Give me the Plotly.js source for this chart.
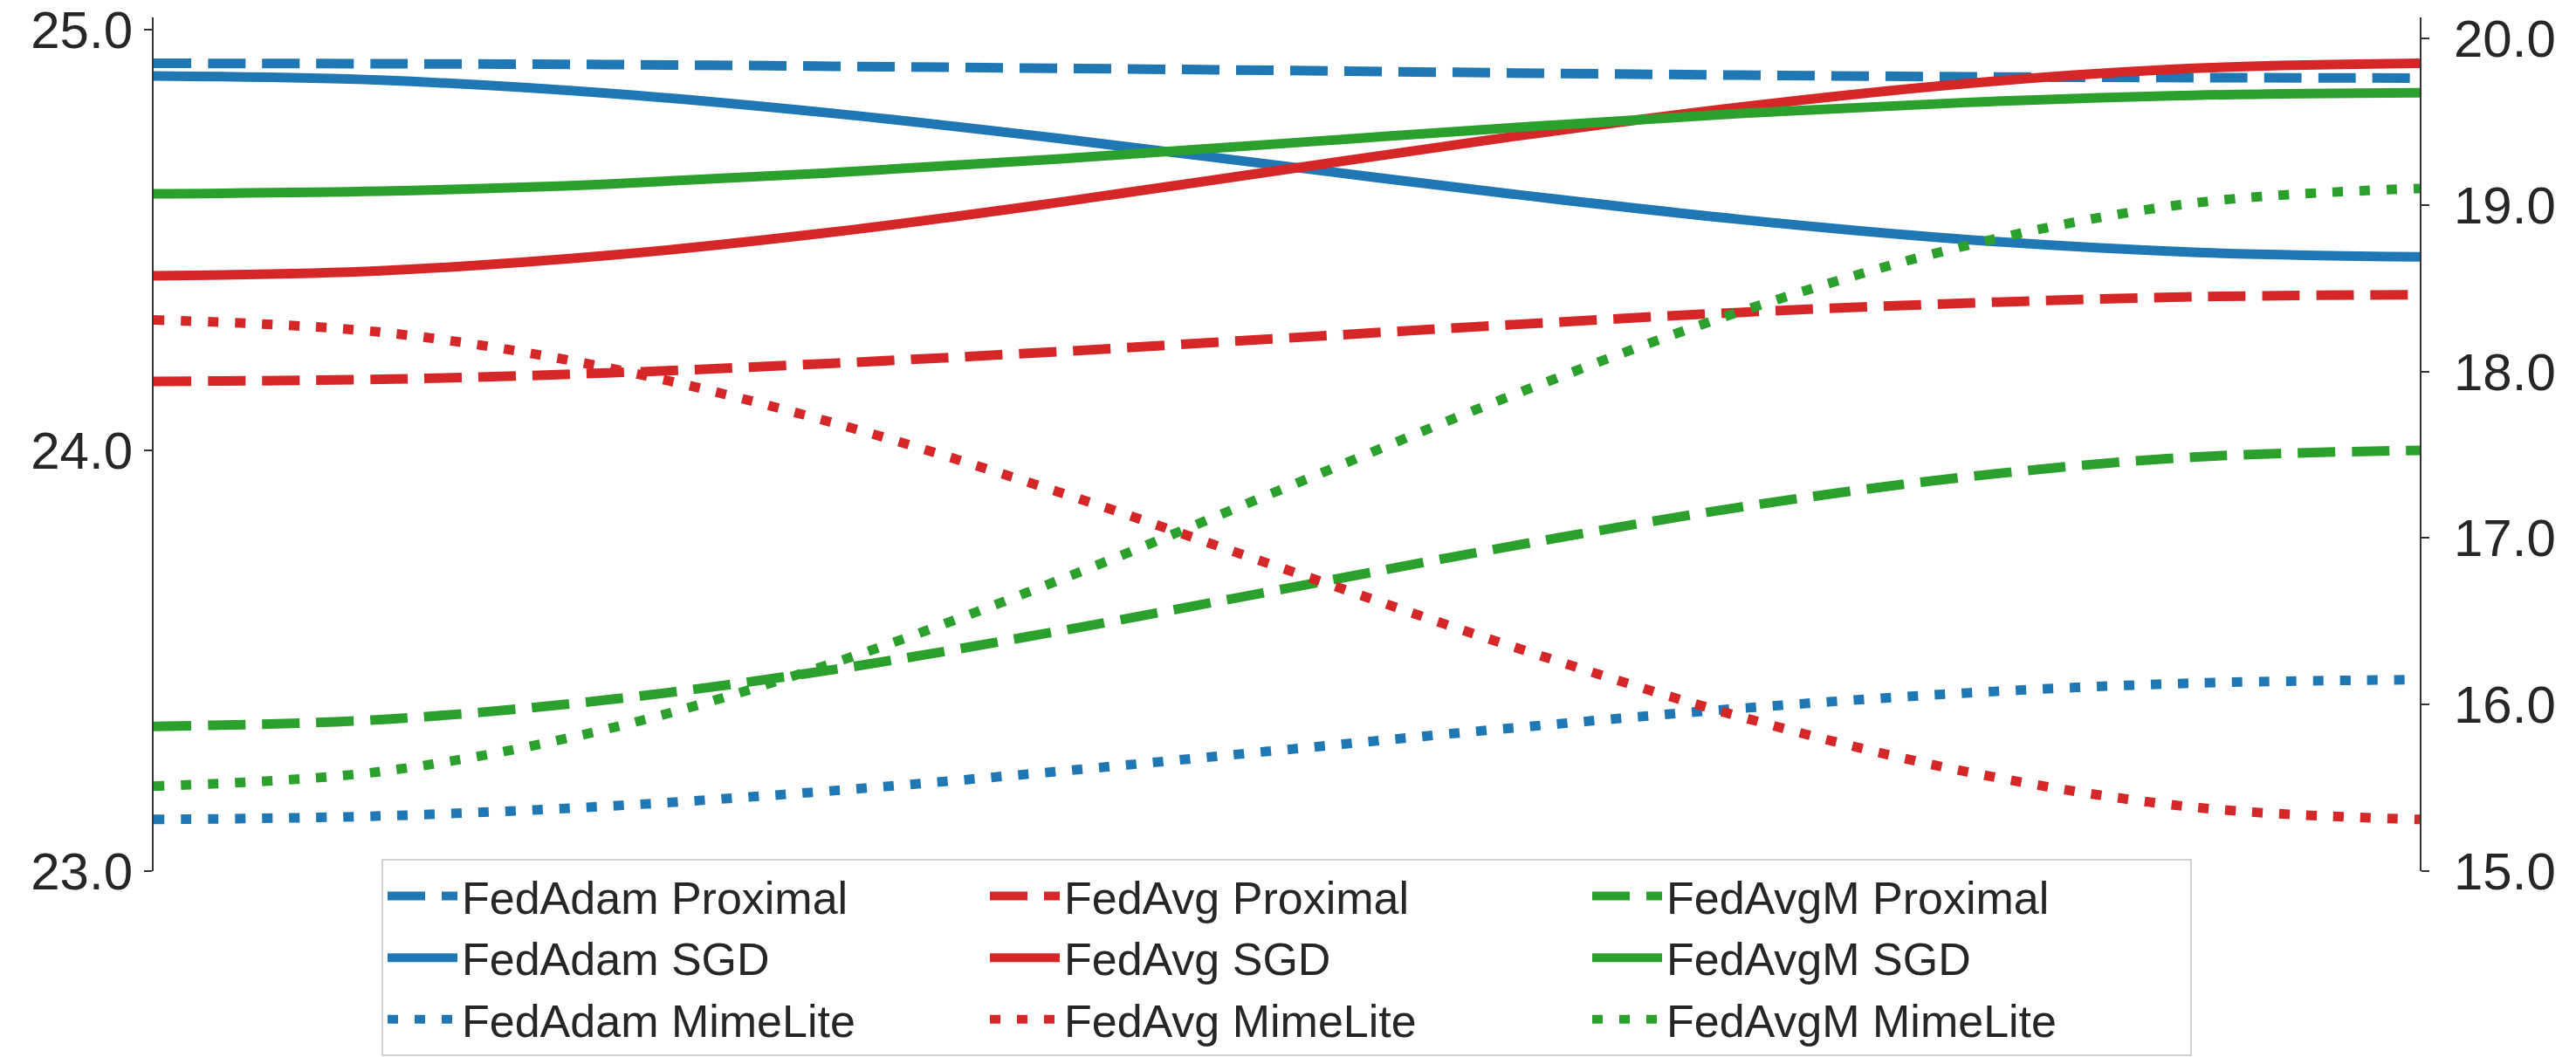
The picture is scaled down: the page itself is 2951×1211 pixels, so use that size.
<!DOCTYPE html>
<html>
<head>
<meta charset="utf-8">
<script src="https://cdn.plot.ly/plotly-3.0.1.min.js"></script>
<style>html,body{margin:0;padding:0;background:#fff;}#chart{width:2951px;height:1211px;}</style>
</head>
<body>
<div id="chart"></div>
<script>
// x positions (steps along the smoothed curve)
const steps = [0, 1, 2, 3, 4, 5, 6, 7, 8, 9, 10];

// Left axis series (Proximal / SGD)
const fedAdamProximal = [24.920, 24.919, 24.917, 24.913, 24.908, 24.903, 24.897, 24.892, 24.888, 24.886, 24.885];
const fedAdamSGD      = [24.890, 24.880, 24.849, 24.801, 24.741, 24.675, 24.609, 24.549, 24.501, 24.471, 24.460];
const fedAvgProximal  = [24.164, 24.169, 24.184, 24.207, 24.235, 24.267, 24.299, 24.328, 24.350, 24.365, 24.370];
const fedAvgSGD       = [24.415, 24.427, 24.463, 24.519, 24.590, 24.668, 24.746, 24.816, 24.872, 24.908, 24.920];
const fedAvgMProximal = [23.344, 23.360, 23.407, 23.479, 23.571, 23.672, 23.773, 23.865, 23.937, 23.984, 24.000];
const fedAvgMSGD      = [24.610, 24.616, 24.633, 24.660, 24.693, 24.730, 24.767, 24.801, 24.827, 24.844, 24.850];

// Right axis series (MimeLite)
const fedAdamMimeLite = [15.310, 15.331, 15.390, 15.483, 15.600, 15.730, 15.860, 15.977, 16.070, 16.129, 16.150];
const fedAvgMimeLite  = [18.310, 18.237, 18.024, 17.692, 17.274, 16.810, 16.347, 15.928, 15.597, 15.384, 15.310];
const fedAvgMMimeLite = [15.510, 15.598, 15.853, 16.250, 16.750, 17.305, 17.860, 18.360, 18.757, 19.012, 19.100];

const leftTicks = [23, 24, 25];
const rightTicks = [15, 16, 17, 18, 19, 20];

const BLUE = '#1f77b4', RED = '#d62728', GREEN = '#2ca02c';
const DASH = '43px,19px', DOT = '12px,19px';
const LW = 11;

function tr(name, y, color, dash, axis) {
  return {
    x: steps, y: y, name: name, type: 'scatter', mode: 'lines',
    yaxis: axis,
    line: {color: color, width: LW, dash: dash, shape: 'spline', smoothing: 1},
    hoverinfo: 'skip'
  };
}

// Order row-wise so that the horizontal legend shows 3 columns (FedAdam | FedAvg | FedAvgM)
const data = [
  tr('FedAdam Proximal', fedAdamProximal, BLUE, DASH, 'y'),
  tr('FedAvg Proximal', fedAvgProximal, RED, DASH, 'y'),
  tr('FedAvgM Proximal', fedAvgMProximal, GREEN, DASH, 'y'),
  tr('FedAdam SGD', fedAdamSGD, BLUE, 'solid', 'y'),
  tr('FedAvg SGD', fedAvgSGD, RED, 'solid', 'y'),
  tr('FedAvgM SGD', fedAvgMSGD, GREEN, 'solid', 'y'),
  tr('FedAdam MimeLite', fedAdamMimeLite, BLUE, DOT, 'y2'),
  tr('FedAvg MimeLite', fedAvgMimeLite, RED, DOT, 'y2'),
  tr('FedAvgM MimeLite', fedAvgMMimeLite, GREEN, DOT, 'y2')
];

const FONT = 'Liberation Sans, Arial, sans-serif';
const TXT = '#262626';

const layout = {
  width: 2951, height: 1211,
  margin: {l: 176, r: 179, t: 20, b: 213, pad: 0, autoexpand: false},
  paper_bgcolor: '#fff', plot_bgcolor: '#fff',
  showlegend: true,
  font: {family: FONT, color: TXT},
  xaxis: {range: [0, 10], visible: false, showgrid: false, zeroline: false, fixedrange: true},
  yaxis: {
    range: [23, 25.029], tickvals: leftTicks, tickformat: '.1f',
    showgrid: false, zeroline: false,
    showline: true, linecolor: '#333', linewidth: 2,
    ticks: 'outside', ticklen: 9, tickwidth: 2, tickcolor: '#333',
    tickfont: {family: FONT, size: 60, color: TXT}, ticklabelstandoff: 1,
    ticklabeloverflow: 'allow'
  },
  yaxis2: {
    range: [15, 20.127], tickvals: rightTicks, tickformat: '.1f',
    overlaying: 'y', side: 'right', anchor: 'x',
    showgrid: false, zeroline: false,
    showline: true, linecolor: '#333', linewidth: 2,
    ticks: 'outside', ticklen: 9, tickwidth: 2, tickcolor: '#333',
    tickfont: {family: FONT, size: 60, color: TXT}, ticklabelstandoff: 16,
    ticklabeloverflow: 'allow'
  },
  legend: {
    orientation: 'h', x: 0.5, xanchor: 'center', y: 0.014, yanchor: 'top',
    font: {family: FONT, size: 52, color: TXT},
    bgcolor: '#fff', bordercolor: '#d0d0d0', borderwidth: 2,
    entrywidth: 595, entrywidthmode: 'pixels', itemwidth: 80,
    traceorder: 'normal'
  }
};

Plotly.newPlot('chart', data, layout, {staticPlot: true, displayModeBar: false});
</script>
</body>
</html>
